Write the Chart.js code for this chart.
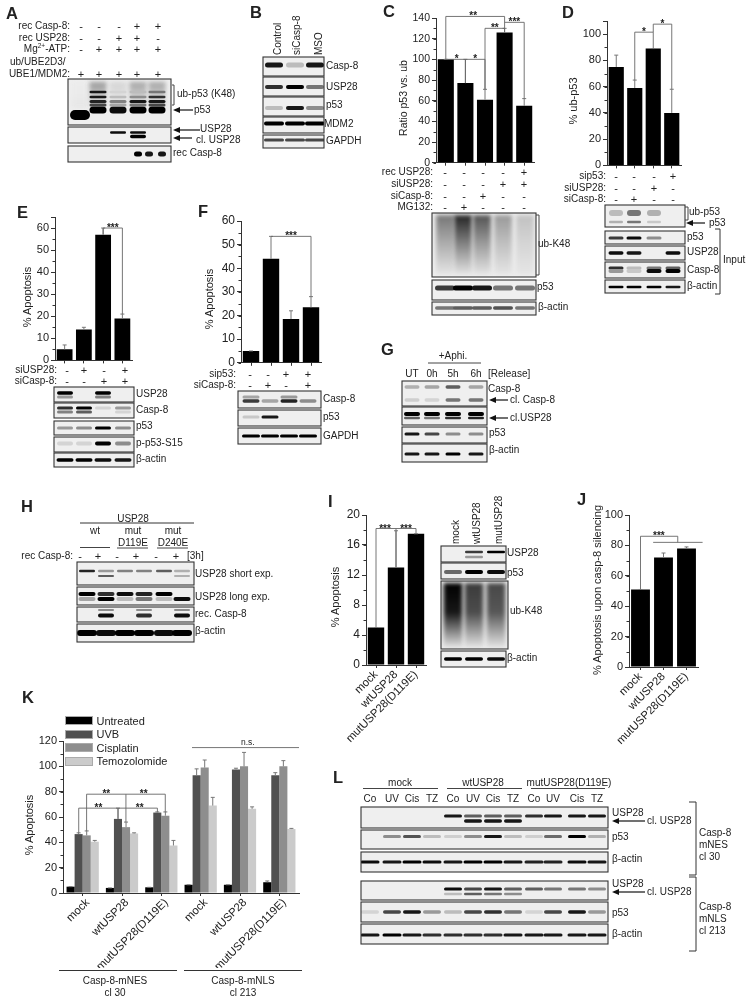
<!DOCTYPE html>
<html>
<head>
<meta charset="utf-8">
<style>
  html, body { margin: 0; padding: 0; background: #fff; }
  #page { position: relative; width: 747px; height: 999px; overflow: hidden; }
  #page canvas { position: absolute; }
  .t { position: absolute; white-space: nowrap; color: #222; font-family: "Liberation Sans", Arial, sans-serif; line-height: 1; }
  sup { font-size: 65%; line-height: 0; }
</style>
<script src="https://cdn.jsdelivr.net/npm/chart.js@4/dist/chart.umd.js"></script>
</head>
<body>
<div id="page"><canvas id="blots" width="747" height="999" style="left:0;top:0"></canvas></div>
<script>
// bar values
const cCats = ["control", "MG132", "siCasp-8", "siUSP28", "siUSP28 + rec USP28"];
const cValues = [100, 77, 61, 126, 55];
const cErrors = [100, 100, 71, 130, 62];

const dCats = ["control", "siCasp-8", "siUSP28", "sip53"];
const dValues = [75, 59, 89, 40];
const dErrors = [84, 65, 89, 58];

const eCats = ["control", "siUSP28", "siCasp-8", "siUSP28 + siCasp-8"];
const eValues = [5, 14, 57, 19];
const eErrors = [7, 15, 60, 21];

const fCats = ["control", "siCasp-8", "sip53", "sip53 + siCasp-8"];
const fValues = [5, 44, 18.5, 23.5];
const fErrors = [5, 53.5, 22, 28];

const usp28Cats = ["mock", "wtUSP28", "mutUSP28(D119E)"];
const iValues = [5, 13, 17.5];
const iErrors = [5, 17.9, 17.5];
const jValues = [51, 72, 78];
const jErrors = [51, 75, 79];

const kCats = ["mock", "wtUSP28", "mutUSP28(D119E)", "mock", "wtUSP28", "mutUSP28(D119E)"];
const kSeries = ["Untreated", "UVB", "Cisplatin", "Temozolomide"];
const kColors = ["#000000", "#505050", "#8e8e8e", "#cbcbcb"];
const kUntreated = [5, 4, 4.5, 6.5, 6.5, 8.5];
const kUvb = [46.5, 58.5, 63.5, 93, 97.5, 93];
const kCisplatin = [45.5, 52, 61, 99, 100, 100];
const kTemozolomide = [40.5, 47, 37.5, 69, 66.5, 50.5];
const kUntreatedErr = [5, 4, 4.5, 6.5, 6.5, 9.5];
const kUvbErr = [47.5, 67, 64, 98, 98.5, 95];
const kCisplatinErr = [49, 56, 64, 105, 111, 104.5];
const kTemozolomideErr = [41.5, 47.5, 41.5, 75.5, 68, 51];

const page = document.getElementById("page");
const FONT = '"Liberation Sans", Arial, sans-serif';

function txt(s, x, y, o) {
    o = o || {};
    const d = document.createElement("div");
    d.className = "t";
    d.innerHTML = s;
    d.style.left = x + "px";
    d.style.top = y + "px";
    d.style.fontSize = (o.size || 10) + "px";
    if (o.bold) d.style.fontWeight = "bold";
    if (o.up) {
        // reads upwards from (x, y)
        d.style.transformOrigin = "0 0";
        d.style.transform = "rotate(-90deg) translateY(-50%)";
    } else if (o.vert) {
        d.style.transform = "translate(-50%,-50%) rotate(-90deg)";
    } else if (o.align == "right") {
        d.style.transform = "translate(-100%,-50%)";
    } else if (o.align == "center") {
        d.style.transform = "translate(-50%,-50%)";
    } else {
        d.style.transform = "translateY(-50%)";
    }
    page.appendChild(d);
}

function signRow(label, right, y, xs, signs) {
    txt(label, right, y, { align: "right" });
    signs.split("").forEach((s, i) => txt(s, xs[i], y, { align: "center", size: 11 }));
}

function panel(letter, x, y) {
    txt(letter, x, y, { size: 16.5, bold: true });
}

// ---- blot pictures on the back canvas ----
const bg = document.getElementById("blots").getContext("2d");

function shade(d) {
    const v = Math.round(235 * (1 - d));
    return "rgb(" + v + "," + v + "," + v + ")";
}

function blot(x, y, w, h, lanes, bw, bands, smears) {
    bg.save();
    bg.beginPath();
    bg.rect(x, y, w, h);
    bg.clip();
    bg.fillStyle = "#efefef";
    bg.fillRect(x, y, w, h);
    (smears || []).forEach(sm => {
        const hold = sm[3] || 0.55;
        sm[2].forEach((d, i) => {
            const g = bg.createLinearGradient(0, sm[0], 0, sm[1]);
            g.addColorStop(0, shade(d));
            g.addColorStop(0.45, shade(d * hold));
            g.addColorStop(1, "#e6e6e6");
            bg.filter = "blur(2px)";
            bg.fillStyle = g;
            bg.fillRect(lanes[i] - bw / 2, sm[0], bw, sm[1] - sm[0]);
        });
    });
    bg.filter = "blur(0.6px)";
    bands.forEach(b => {
        const [yc, thick, vals] = b;
        const ls = b[3] || lanes;
        const bwid = b[4] || bw;
        vals.forEach((d, i) => {
            if (!d) return;
            bg.fillStyle = shade(d);
            bg.beginPath();
            bg.roundRect(ls[i] - bwid / 2, yc - thick / 2, bwid, thick, thick / 2);
            bg.fill();
        });
    });
    bg.restore();
    bg.filter = "none";
    bg.strokeStyle = "#333";
    bg.lineWidth = 1.1;
    bg.strokeRect(x, y, w, h);
}

function line(pts, color, width) {
    bg.strokeStyle = color || "#222";
    bg.lineWidth = width || 1;
    bg.beginPath();
    pts.forEach((p, i) => i ? bg.lineTo(p[0], p[1]) : bg.moveTo(p[0], p[1]));
    bg.stroke();
}

function arrow(x0, x1, y) {
    line([[x0, y], [x1 + 5, y]], "#111", 1.2);
    bg.fillStyle = "#111";
    bg.beginPath();
    bg.moveTo(x1, y);
    bg.lineTo(x1 + 7, y - 3);
    bg.lineTo(x1 + 7, y + 3);
    bg.fill();
}

// ---- chart plugins ----
const minorTicks = {
    id: "minorTicks",
    afterDraw(chart, args, opts) {
        const y = chart.scales.y, c = chart.ctx;
        c.save();
        c.strokeStyle = "#333";
        c.lineWidth = 1;
        for (let v = 0; v <= y.max; v += opts.step) {
            const p = Math.round(y.getPixelForValue(v)) + 0.5;
            c.beginPath();
            c.moveTo(y.right, p);
            c.lineTo(y.right - 2.5, p);
            c.stroke();
        }
        c.restore();
    }
};

const errorBars = {
    id: "errorBars",
    afterDatasetsDraw(chart) {
        const c = chart.ctx, y = chart.scales.y;
        c.save();
        c.strokeStyle = "#777";
        c.lineWidth = 1;
        chart.data.datasets.forEach((ds, k) => {
            chart.getDatasetMeta(k).data.forEach((bar, i) => {
                const top = y.getPixelForValue(ds.errTop[i]);
                const base = y.getPixelForValue(ds.data[i]);
                c.beginPath();
                c.moveTo(bar.x, base);
                c.lineTo(bar.x, top);
                c.moveTo(bar.x - 2, top);
                c.lineTo(bar.x + 2, top);
                c.stroke();
            });
        });
        c.restore();
    }
};

// significance brackets, given in category position and value
const brackets = {
    id: "brackets",
    afterDraw(chart, args, opts) {
        const c = chart.ctx, x = chart.scales.x, y = chart.scales.y;
        c.save();
        c.strokeStyle = "#666";
        c.lineWidth = 0.9;
        (opts.lines || []).forEach(l => {
            c.beginPath();
            l.forEach((p, i) => {
                const px = x.getPixelForValue(p[0]), py = y.getPixelForValue(p[1]);
                i ? c.lineTo(px, py) : c.moveTo(px, py);
            });
            c.stroke();
        });
        c.fillStyle = "#222";
        c.textAlign = "center";
        (opts.stars || []).forEach(s => {
            c.font = (s[3] || "bold 10px") + " " + FONT;
            c.fillText(s[2], x.getPixelForValue(s[0]), y.getPixelForValue(s[1]) + (s[3] ? -3 : 3));
        });
        c.restore();
    }
};

function barChart(o) {
    const ml = 34, mr = 18, mt = 18, mb = o.bottom || 8;
    const cv = document.createElement("canvas");
    cv.width = o.r - o.l + ml + mr;
    cv.height = o.b - o.t + mt + mb;
    cv.style.left = (o.l - ml) + "px";
    cv.style.top = (o.t - mt) + "px";
    page.appendChild(cv);
    return new Chart(cv, {
        type: "bar",
        data: { labels: o.labels, datasets: o.datasets },
        options: {
            responsive: false,
            animation: false,
            layout: { autoPadding: false, padding: { top: mt, right: mr, left: 0, bottom: 0 } },
            plugins: {
                legend: { display: false },
                tooltip: { enabled: false },
                minorTicks: { step: o.minor },
                brackets: { lines: o.lines, stars: o.stars }
            },
            scales: {
                x: {
                    offset: true,
                    afterFit: s => { s.height = mb; },
                    border: { color: "#333" },
                    grid: { display: true, drawOnChartArea: false, tickLength: 3, tickColor: "#333", offset: false },
                    ticks: {
                        display: !!o.bottom,
                        autoSkip: false,
                        maxRotation: 45,
                        minRotation: 45,
                        padding: 0,
                        labelOffset: o.labelOffset || 0,
                        color: "#222",
                        font: { family: FONT, size: 11.3 }
                    }
                },
                y: {
                    min: 0,
                    max: o.max,
                    bounds: "data",
                    afterFit: s => { s.width = ml; },
                    border: { color: "#333" },
                    grid: { display: true, drawOnChartArea: false, tickLength: 4, tickColor: "#333" },
                    ticks: {
                        stepSize: o.step,
                        includeBounds: false,
                        padding: 2,
                        color: "#222",
                        font: { family: FONT, size: o.tick || 11 },
                        callback: v => v % o.step === 0 ? v : ""
                    }
                }
            }
        },
        plugins: [minorTicks, errorBars, brackets]
    });
}

function single(values, errors, pct) {
    return [{ data: values, errTop: errors, backgroundColor: "#000", barPercentage: pct || 0.82, categoryPercentage: 1 }];
}

// ---- A ----
panel("A", 6, 13);
const signsA = [81, 99, 119, 137, 158];
signRow("rec Casp-8:", 70, 26, signsA, "---++");
signRow("rec USP28:", 70, 38, signsA, "--++-");
signRow("Mg<sup>2+</sup>-ATP:", 70, 49, signsA, "-++++");
txt("ub/UBE2D3/", 10, 62);
signRow("UBE1/MDM2:", 70, 74, signsA, "+++++");
const lanesA = [80, 98, 118, 138, 157];
blot(68, 79, 103, 46, lanesA, 17, [
    [115, 10, [1, 0, 0, 0, 0], null, 20],
    [110, 7, [0, 1, 0.95, 1, 1]],
    [105, 3, [0, 0.7, 0.3, 0.5, 0.7]],
    [101.5, 3, [0, 0.85, 0.45, 0.9, 0.9]],
    [97, 2.5, [0, 0.9, 0.2, 0.4, 0.8]],
    [92, 2.5, [0, 0.9, 0.1, 0.2, 0.5]]
], [[82, 108, [0, 0.35, 0.1, 0.3, 0.3]]]);
blot(68, 127, 103, 16, lanesA, 16, [
    [132.5, 2.5, [0, 0, 0.95, 0.95, 0]],
    [136.5, 3.5, [0, 0, 0, 1, 0]]
]);
blot(68, 146, 103, 16, [138, 149, 162], 8, [[154, 5, [1, 0.9, 0.9]]]);
line([[172, 85], [174, 85], [174, 105], [172, 105]], "#444");
txt("ub-p53 (K48)", 177, 94);
arrow(193, 173, 110);
txt("p53", 194, 110);
arrow(200, 173, 130);
txt("USP28", 200, 129);
arrow(192, 173, 138);
txt("cl. USP28", 196, 140);
txt("rec Casp-8", 173, 153);

// ---- B ----
panel("B", 250, 12);
const lanesB = [274, 295, 315];
txt("Control", 278, 55, { up: true });
txt("siCasp-8", 297, 55, { up: true });
txt("MSO", 319, 55, { up: true });
blot(263, 57, 61, 19, lanesB, 18, [[65, 5, [0.9, 0.2, 0.9]]]);
blot(263, 77, 61, 19, lanesB, 18, [[87, 4, [0.8, 1, 0.5]]]);
blot(263, 97, 61, 19, lanesB, 18, [[108, 4, [0.2, 0.9, 0.4]]]);
blot(263, 117, 61, 16, lanesB, 20, [[123.5, 4, [1, 1, 1]]]);
blot(263, 135, 61, 13, lanesB, 20, [[140, 3, [0.7, 0.7, 0.7]]]);
txt("Casp-8", 326, 66);
txt("USP28", 326, 87);
txt("p53", 326, 105);
txt("MDM2", 324, 124);
txt("GAPDH", 326, 141);

// ---- C ----
panel("C", 383, 11);
txt("Ratio p53 vs. ub", 403, 98, { vert: true, size: 10.5 });
barChart({
    l: 435.5, t: 18, r: 534, b: 163, labels: cCats, datasets: single(cValues, cErrors),
    max: 140, step: 20, minor: 10, tick: 10.5,
    lines: [
        [[0, 100], [0, 141.5], [3, 141.5], [3, 126]],
        [[3, 135.8], [4, 135.8], [4, 62]],
        [[2, 71], [2, 130], [3, 130]],
        [[0, 100], [2, 100], [2, 71]],
        [[1, 100], [1, 77]]
    ],
    stars: [[1.4, 141.5, "**"], [3.5, 135.8, "***"], [2.5, 130, "**"], [0.55, 100, "*"], [1.5, 100, "*"]]
});
const signsC = [445, 464, 483, 503, 524];
signRow("rec USP28:", 433, 172, signsC, "----+");
signRow("siUSP28:", 433, 184, signsC, "---++");
signRow("siCasp-8:", 433, 196, signsC, "--+--");
signRow("MG132:", 433, 207, signsC, "-+---");
const lanesC = [445, 463, 482, 503, 525];
blot(432, 213, 104, 64, lanesC, 18, [], [[215, 275, [0.5, 0.85, 0.65, 0.35, 0.18]]]);
blot(432, 280, 104, 20, lanesC, 20, [[288, 5, [0.75, 1, 0.9, 0.5, 0.5]]]);
blot(432, 302, 104, 13, lanesC, 20, [[308, 3.5, [0.5, 0.6, 0.6, 0.65, 0.5]]]);
line([[536, 215], [539, 215], [539, 275], [536, 275]], "#444");
txt("ub-K48", 538, 244);
txt("p53", 537, 287);
txt("β-actin", 538, 307);

// ---- D ----
panel("D", 562, 12);
txt("% ub-p53", 573, 101, { vert: true, size: 11 });
barChart({
    l: 607.2, t: 21, r: 682, b: 166, labels: dCats, datasets: single(dValues, dErrors),
    max: 110, step: 20, minor: 10,
    lines: [
        [[1, 65], [1, 101.5], [2, 101.5], [2, 89]],
        [[2, 101.5], [2, 107.6], [3, 107.6], [3, 58]]
    ],
    stars: [[1.5, 101.5, "*"], [2.5, 107.6, "*"]]
});
const signsD = [616, 634, 654, 673];
signRow("sip53:", 606, 176, signsD, "---+");
signRow("siUSP28:", 606, 188, signsD, "--+-");
signRow("siCasp-8:", 606, 199, signsD, "-+--");
const lanesD = [616, 634, 654, 673];
blot(605, 205, 80, 22, lanesD, 14, [
    [213, 6, [0.2, 0.5, 0.25, 0]],
    [222, 2.5, [0.25, 0.5, 0.15, 0]]
]);
blot(605, 231, 80, 13, lanesD, 15, [[238, 3, [0.75, 0.95, 0.4, 0]]]);
blot(605, 246, 80, 14, lanesD, 15, [[253, 3.5, [0.95, 0.9, 0, 0.95]]]);
blot(605, 262, 80, 16, lanesD, 15, [
    [268, 3, [0.8, 0.2, 0.5, 0.6]],
    [271, 4, [0.35, 0.15, 0.95, 1]]
]);
blot(605, 280, 80, 13, lanesD, 15, [[287, 2.5, [1, 1, 1, 0.9]]]);
line([[685, 207], [688, 207], [688, 220], [685, 220]], "#444");
txt("ub-p53", 689, 212);
arrow(705, 686, 223);
txt("p53", 709, 223);
txt("p53", 687, 237);
txt("USP28", 687, 252);
txt("Casp-8", 687, 270);
txt("β-actin", 687, 286);
line([[715, 229], [720, 229], [720, 294], [715, 294]], "#333");
txt("Input", 723, 260);

// ---- E ----
panel("E", 17, 212);
txt("% Apoptosis", 27, 297, { vert: true, size: 11 });
barChart({
    l: 55, t: 216.5, r: 132, b: 361, labels: eCats, datasets: single(eValues, eErrors),
    max: 65, step: 10, minor: 5,
    lines: [[[2, 57], [2, 60], [3, 60], [3, 21]]],
    stars: [[2.5, 60, "***"]]
});
const signsE = [67, 84, 104, 125];
signRow("siUSP28:", 57, 370, signsE, "-+-+");
signRow("siCasp-8:", 57, 381, signsE, "--++");
const lanesE = [65, 84, 103, 123];
blot(54, 387, 80, 15, lanesE, 16, [
    [393, 3.5, [1, 0, 1, 0]],
    [397, 3, [0.35, 0, 0.45, 0]]
]);
blot(54, 403, 80, 15, lanesE, 16, [
    [408, 3, [0.8, 1, 0.1, 0.35]],
    [412, 3, [0.45, 0.6, 0, 0.1]]
]);
blot(54, 421, 80, 14, lanesE, 16, [[428, 3, [0.35, 0.4, 1, 0.4]]]);
blot(54, 437, 80, 15, lanesE, 16, [[443.5, 4, [0.1, 0.1, 1, 0.4]]]);
blot(54, 453, 80, 14, lanesE, 17, [[460, 3.5, [1, 1, 0.95, 0.9]]]);
txt("USP28", 136, 394);
txt("Casp-8", 136, 410);
txt("p53", 136, 426);
txt("p-p53-S15", 136, 443);
txt("β-actin", 136, 459);

// ---- F ----
panel("F", 198, 211);
txt("% Apoptosis", 209, 299, { vert: true, size: 11 });
barChart({
    l: 240.7, t: 220.7, r: 321.6, b: 364.3, labels: fCats, datasets: single(fValues, fErrors),
    max: 60, step: 10, minor: 5, tick: 12,
    lines: [[[1, 53.5], [3, 53.5], [3, 28]]],
    stars: [[2, 53.5, "***"]]
});
const signsF = [250, 268, 286, 308];
signRow("sip53:", 236, 374, signsF, "--++");
signRow("siCasp-8:", 236, 385, signsF, "-+-+");
const lanesF = [251, 270, 289, 308];
blot(238, 391, 83, 17, lanesF, 17, [
    [397, 3, [0.3, 0, 0.35, 0]],
    [401, 3.5, [0.75, 0.3, 0.85, 0.4]]
]);
blot(238, 410, 83, 16, lanesF, 17, [[417, 3, [0.15, 0.9, 0, 0]]]);
blot(238, 428, 83, 16, lanesF, 18, [[436, 3, [1, 1, 1, 1]]]);
txt("Casp-8", 323, 399);
txt("p53", 323, 417);
txt("GAPDH", 323, 436);

// ---- G ----
panel("G", 381, 349);
const lanesG = [412, 432, 453, 476];
txt("+Aphi.", 453, 356, { align: "center" });
line([[428, 363], [481, 363]], "#444");
["UT", "0h", "5h", "6h"].forEach((s, i) => txt(s, lanesG[i], 374, { align: "center" }));
txt("[Release]", 488, 374);
blot(402, 381, 85, 25, lanesG, 15, [
    [387, 3.5, [0.25, 0.3, 0.6, 0.3]],
    [400, 3.5, [0.12, 0.1, 0.5, 0.5]]
]);
blot(402, 407, 85, 18, lanesG, 16, [
    [414, 4, [1, 1, 1, 1]],
    [418, 2.5, [0.6, 0.5, 0.8, 0.85]]
]);
blot(402, 427, 85, 16, lanesG, 15, [[434, 3, [0.9, 0.7, 0.4, 0.4]]]);
blot(402, 444, 85, 18, lanesG, 15, [[454, 3, [0.9, 0.9, 1, 0.9]]]);
txt("Casp-8", 488, 389);
arrow(508, 489, 400);
txt("cl. Casp-8", 510, 400);
arrow(508, 489, 418);
txt("cl.USP28", 510, 418);
txt("p53", 489, 433);
txt("β-actin", 489, 450);

// ---- H ----
panel("H", 21, 506);
txt("USP28", 133, 519, { align: "center" });
line([[80, 523], [194, 523]], "#333");
txt("wt", 95, 531, { align: "center" });
txt("mut", 133, 531, { align: "center" });
txt("mut", 173, 531, { align: "center" });
txt("D119E", 133, 543, { align: "center" });
txt("D240E", 173, 543, { align: "center" });
line([[80, 547.5], [110, 547.5]], "#444");
line([[117, 548], [148, 548]], "#444");
line([[157, 548], [188, 548]], "#444");
const signsH = [80, 98, 117, 136, 156, 176];
signRow("rec Casp-8:", 73, 556, signsH, "-+-+-+");
txt("[3h]", 187, 556);
const lanesH = [87, 106, 125, 144, 164, 182];
blot(77, 562, 117, 23, lanesH, 16, [
    [571, 2.5, [0.85, 0.35, 0.45, 0.45, 0.6, 0.25]],
    [576, 2, [0, 0.6, 0, 0, 0, 0.25]]
]);
blot(77, 587, 117, 18, lanesH, 17, [
    [594, 4, [1, 0.8, 0.95, 0.85, 1, 0]],
    [599, 4, [0.3, 1, 0.2, 0.5, 0.2, 0.95]]
]);
blot(77, 607, 117, 15, lanesH, 16, [
    [610, 2, [0, 0.4, 0, 0.4, 0, 0.4]],
    [615.5, 4, [0, 0.95, 0, 0.8, 0, 0.95]]
]);
blot(77, 624, 117, 18, lanesH, 20, [[633, 6, [1, 0.95, 1, 1, 0.95, 1]]]);
txt("USP28 short exp.", 195, 574);
txt("USP28 long exp.", 195, 597);
txt("rec. Casp-8", 195, 614);
txt("β-actin", 195, 631);

// ---- I ----
panel("I", 328, 501);
txt("% Apoptosis", 335, 597, { vert: true, size: 11 });
barChart({
    l: 365.7, t: 515, r: 426.2, b: 665, labels: usp28Cats, datasets: single(iValues, iErrors),
    max: 20, step: 4, minor: 2, tick: 12, bottom: 90,
    lines: [[[0, 5], [0, 18.2], [2, 18.2], [2, 17.5]], [[1, 18.2], [1, 13]]],
    stars: [[0.45, 18.2, "***"], [1.5, 18.2, "***"]]
});
const lanesI = [453, 474, 496];
txt("mock", 456, 544, { up: true });
txt("wtUSP28", 477, 544, { up: true });
txt("mutUSP28", 499, 544, { up: true });
blot(441, 546, 65, 16, lanesI, 18, [
    [552, 2.5, [0, 0.75, 1]],
    [557, 2.5, [0, 0.35, 0]]
]);
blot(441, 563, 65, 16, lanesI, 18, [[572, 4, [0.55, 1, 0.95]]]);
blot(441, 581, 67, 68, lanesI, 19, [], [[583, 648, [1, 0.75, 0.7], 0.9]]);
blot(441, 651, 65, 16, lanesI, 18, [[659, 3.5, [1, 1, 0.95]]]);
txt("USP28", 507, 553);
txt("p53", 507, 573);
txt("ub-K48", 510, 611);
txt("β-actin", 507, 658);

// ---- J ----
panel("J", 577, 499);
txt("% Apoptosis upon casp-8 silencing", 597, 590, { vert: true, size: 11 });
barChart({
    l: 628.7, t: 515.3, r: 697.7, b: 667.3, labels: usp28Cats, datasets: single(jValues, jErrors),
    max: 100, step: 20, minor: 10, bottom: 90,
    lines: [[[0, 51], [0, 86], [1.62, 86], [1.62, 82]], [[0.55, 82], [2.7, 82]]],
    stars: [[0.8, 86, "***"]]
});

// ---- K ----
panel("K", 22, 697);
txt("% Apoptosis", 29, 825, { vert: true, size: 11 });
barChart({
    l: 63.1, t: 741.3, r: 300, b: 893.7, labels: kCats,
    datasets: [
        { label: kSeries[0], data: kUntreated, errTop: kUntreatedErr, backgroundColor: kColors[0], barPercentage: 1, categoryPercentage: 0.82 },
        { label: kSeries[1], data: kUvb, errTop: kUvbErr, backgroundColor: kColors[1], barPercentage: 1, categoryPercentage: 0.82 },
        { label: kSeries[2], data: kCisplatin, errTop: kCisplatinErr, backgroundColor: kColors[2], barPercentage: 1, categoryPercentage: 0.82 },
        { label: kSeries[3], data: kTemozolomide, errTop: kTemozolomideErr, backgroundColor: kColors[3], barPercentage: 1, categoryPercentage: 0.82 }
    ],
    max: 120, step: 20, minor: 10, tick: 11, bottom: 75, labelOffset: 5,
    lines: [
        [[-0.1, 47.5], [-0.1, 67], [1.9, 67], [1.9, 64]],
        [[0.9, 67], [0.9, 58.5]],
        [[0.1, 49], [0.1, 78], [2.1, 78], [2.1, 64]],
        [[1.1, 78], [1.1, 56]],
        [[2.78, 114.8], [5.5, 114.8]]
    ],
    stars: [[0.4, 67, "**"], [1.45, 67, "**"], [0.6, 78, "**"], [1.55, 78, "**"], [4.2, 114.8, "n.s.", "8.5px"]]
});
kSeries.forEach((s, i) => {
    const sw = document.createElement("div");
    sw.style.cssText = "position:absolute;left:65px;width:28px;height:9px;box-sizing:border-box;border:1px solid #aaa;top:" +
        (716 + i * 13.6) + "px;background:" + kColors[i];
    page.appendChild(sw);
    txt(s, 96.5, 720.5 + i * 13.6, { size: 11 });
});
line([[59, 970.5], [177, 970.5]], "#333");
line([[184, 970.5], [302, 970.5]], "#333");
txt("Casp-8-mNES", 115, 981, { align: "center" });
txt("cl 30", 115, 993, { align: "center" });
txt("Casp-8-mNLS", 243, 981, { align: "center" });
txt("cl 213", 243, 993, { align: "center" });

// ---- L ----
panel("L", 333, 777);
const lanesL = [370, 392, 412, 432, 453, 473, 493, 513, 534, 553, 577, 597];
[["mock", 400, 363, 438], ["wtUSP28", 483, 447, 522], ["mutUSP28(D119E)", 569, 531, 605]].forEach(h => {
    txt(h[0], h[1], 783, { align: "center" });
    line([[h[2], 788.5], [h[3], 788.5]], "#444");
});
["Co", "UV", "Cis", "TZ", "Co", "UV", "Cis", "TZ", "Co", "UV", "Cis", "TZ"].forEach((s, i) => txt(s, lanesL[i], 799, { align: "center" }));
blot(361, 807, 247, 21, lanesL, 18, [
    [816, 3, [0, 0, 0, 0, 0.9, 0.6, 0.6, 0.6, 0.8, 0.9, 0.9, 0.9]],
    [821, 3.5, [0, 0, 0, 0, 0, 0.9, 0.9, 0.9, 0, 0, 0, 0]]
]);
blot(361, 830, 247, 19, lanesL, 18, [[836.5, 3, [0, 0.4, 0.65, 0.2, 0.12, 0.4, 0.9, 0.2, 0.12, 0.55, 1, 0.25]]]);
blot(361, 852, 247, 20, lanesL, 19, [[862, 3, [0.95, 0.9, 1, 0.95, 0.9, 1, 1, 0.9, 0.85, 0.85, 0.95, 0.9]]]);
blot(361, 881, 247, 19, lanesL, 18, [
    [889, 3, [0, 0, 0, 0, 0.95, 0.7, 0.9, 0.6, 0.6, 0.5, 0.5, 0.4]],
    [894, 2.5, [0, 0, 0, 0, 0.2, 0.6, 0.5, 0.4, 0, 0, 0, 0]]
]);
blot(361, 902, 247, 20, lanesL, 18, [[912, 3.5, [0.1, 0.7, 0.9, 0.35, 0.2, 0.7, 0.8, 0.5, 0.1, 0.7, 0.9, 0.35]]]);
blot(361, 924, 247, 20, lanesL, 19, [[935, 3, [0.9, 1, 0.9, 0.8, 0.8, 0.8, 0.8, 0.9, 0.9, 0.9, 0.9, 0.9]]]);
[[813, 821, 837, 859], [884, 892, 913, 934]].forEach(r => {
    txt("USP28", 612, r[0]);
    arrow(645, 612, r[1]);
    txt("cl. USP28", 647, r[1]);
    txt("p53", 612, r[2]);
    txt("β-actin", 612, r[3]);
});
line([[689, 802], [696, 802], [696, 875], [689, 875]], "#333");
line([[689, 877], [696, 877], [696, 951], [689, 951]], "#333");
["Casp-8", "mNES", "cl 30"].forEach((s, i) => txt(s, 699, 833 + i * 12));
["Casp-8", "mNLS", "cl 213"].forEach((s, i) => txt(s, 699, 907 + i * 12));
</script>
</body>
</html>
